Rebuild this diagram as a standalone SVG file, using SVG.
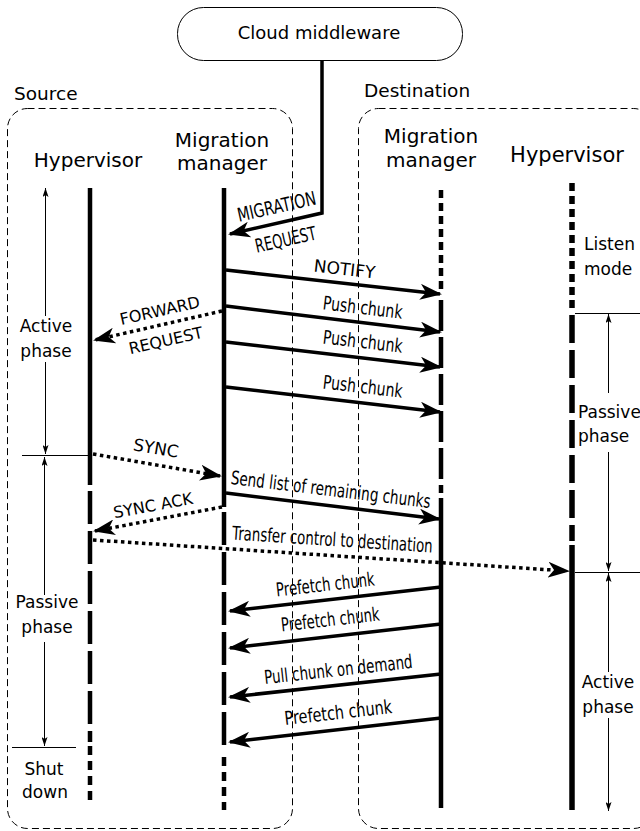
<svg xmlns="http://www.w3.org/2000/svg" width="640" height="831" viewBox="0 0 640 831">
<defs>
<style>
text{font-family:"DejaVu Sans","Liberation Sans",sans-serif;fill:#000}
.box{fill:none;stroke:#000;stroke-width:1;stroke-dasharray:7,4}
.life{stroke:#000;stroke-width:4.5;fill:none}
.msg{stroke:#000;stroke-width:3.5;fill:none;marker-end:url(#ah)}
.dot{stroke:#000;stroke-width:3.5;fill:none;stroke-dasharray:3.5,3.5;marker-end:url(#ah)}
.ph{stroke:#000;stroke-width:1;fill:none}
.pha{stroke:#000;stroke-width:1;fill:none;marker-end:url(#sa)}
.lbl{font-size:19px}
.nm{font-size:17px}
.hd{font-size:20px}
</style>
<marker id="ah" viewBox="0 0 22 16" markerWidth="22" markerHeight="16" refX="20" refY="8" orient="auto" markerUnits="userSpaceOnUse">
<path d="M22,8 L0,0 L6,8 L0,16 Z" fill="#000"/>
</marker>
<marker id="sa" viewBox="0 0 9 6" markerWidth="9" markerHeight="6" refX="9" refY="3" orient="auto" markerUnits="userSpaceOnUse">
<path d="M9,3 L0,0 L2,3 L0,6 Z" fill="#000"/>
</marker>
</defs>

<g id="cloud">
<rect x="177.5" y="7.5" width="285" height="53" rx="26" fill="#fff" stroke="#000" stroke-width="1"/>
<text x="319" y="39" font-size="18" text-anchor="middle">Cloud middleware</text>
</g>

<g id="source">
<rect class="box" x="7.5" y="108.5" width="285" height="720" rx="20"/>
<text x="14" y="100" font-size="18.5">Source</text>
</g>

<g id="destination">
<rect class="box" x="358.5" y="108.5" width="295" height="720" rx="20"/>
<text x="364" y="97" font-size="18.5">Destination</text>
</g>

<g id="src-hypervisor">
<text class="hd" x="88" y="167" text-anchor="middle" font-size="20.5">Hypervisor</text>
<line class="life" x1="90" y1="188" x2="90" y2="485"/>
<line class="life" x1="90" y1="491" x2="90" y2="742" stroke-dasharray="33,7"/>
<line class="life" x1="90" y1="746" x2="90" y2="805" stroke-dasharray="9,6"/>
</g>

<g id="src-manager">
<text class="hd" x="222" y="147" text-anchor="middle">Migration</text>
<text class="hd" x="222" y="170" text-anchor="middle">manager</text>
<line class="life" x1="224" y1="188" x2="224" y2="507"/>
<line class="life" x1="224" y1="512" x2="224" y2="752" stroke-dasharray="33,7"/>
<line class="life" x1="224" y1="757" x2="224" y2="810" stroke-dasharray="9,6"/>
</g>

<g id="dst-manager">
<text class="hd" x="431" y="143" text-anchor="middle">Migration</text>
<text class="hd" x="431" y="167" text-anchor="middle">manager</text>
<line class="life" x1="441" y1="190" x2="441" y2="293" stroke-dasharray="8,5"/>
<line class="life" x1="441" y1="300" x2="441" y2="493" stroke-dasharray="31,6"/>
<line class="life" x1="441" y1="498" x2="441" y2="808"/>
</g>

<g id="dst-hypervisor">
<text x="567" y="162" font-size="21" text-anchor="middle">Hypervisor</text>
<line x1="572" y1="183" x2="572" y2="310" stroke="#000" stroke-width="5.5" stroke-dasharray="8,5"/>
<line x1="572" y1="315" x2="572" y2="541" stroke="#000" stroke-width="5.5" stroke-dasharray="28,7"/>
<line x1="572" y1="545" x2="572" y2="810" stroke="#000" stroke-width="5.5"/>
</g>

<g id="src-phases">
<line class="pha" x1="45.5" y1="316" x2="45.5" y2="188"/>
<text class="nm" x="46" y="332" text-anchor="middle">Active</text>
<text class="nm" x="46" y="357" text-anchor="middle">phase</text>
<line class="pha" x1="45.5" y1="362" x2="45.5" y2="454"/>
<line class="ph" x1="22" y1="455.5" x2="88" y2="455.5"/>
<line class="pha" x1="44.5" y1="595" x2="44.5" y2="457"/>
<text class="nm" x="47" y="608" text-anchor="middle">Passive</text>
<text class="nm" x="47" y="633" text-anchor="middle">phase</text>
<line class="pha" x1="44.5" y1="642" x2="44.5" y2="746"/>
<line class="ph" x1="12" y1="747.5" x2="76" y2="747.5"/>
<text class="nm" x="44" y="775" text-anchor="middle">Shut</text>
<text class="nm" x="45" y="798" text-anchor="middle">down</text>
</g>

<g id="dst-phases">
<text class="nm" x="584" y="250">Listen</text>
<text class="nm" x="584" y="275">mode</text>
<line class="ph" x1="575" y1="313.5" x2="640" y2="313.5"/>
<line class="pha" x1="608.5" y1="393" x2="608.5" y2="314"/>
<text class="nm" x="578" y="418">Passive</text>
<text class="nm" x="578" y="442">phase</text>
<line class="pha" x1="608.5" y1="452" x2="608.5" y2="571"/>
<line class="ph" x1="575" y1="572.5" x2="640" y2="572.5"/>
<line class="pha" x1="608.5" y1="672" x2="608.5" y2="573"/>
<text class="nm" x="608" y="688" text-anchor="middle">Active</text>
<text class="nm" x="608" y="713" text-anchor="middle">phase</text>
<line class="pha" x1="608.5" y1="718" x2="608.5" y2="811"/>
</g>

<g id="connectors">
<polyline class="msg" points="322,60 322,213 230,234"/>
<line class="msg" x1="226" y1="270" x2="440" y2="294"/>
<line class="msg" x1="226" y1="306" x2="440" y2="332"/>
<line class="msg" x1="226" y1="342" x2="440" y2="367"/>
<line class="msg" x1="226" y1="387" x2="440" y2="412"/>
<line class="dot" x1="222" y1="311" x2="95" y2="340"/>
<line class="dot" x1="93" y1="454" x2="220" y2="476"/>
<line class="msg" x1="226" y1="493" x2="439" y2="519"/>
<line class="dot" x1="222" y1="507" x2="95" y2="531"/>
<line class="dot" x1="93" y1="540" x2="568" y2="571"/>
<line class="msg" x1="441" y1="587" x2="230" y2="611"/>
<line class="msg" x1="441" y1="624" x2="230" y2="648"/>
<line class="msg" x1="441" y1="674" x2="230" y2="697"/>
<line class="msg" x1="441" y1="718" x2="230" y2="742"/>
</g>

<g id="labels">
<text class="lbl" x="278" y="213" text-anchor="middle" textLength="80" lengthAdjust="spacingAndGlyphs" transform="rotate(-12.6 278 213)">MIGRATION</text>
<text class="lbl" x="287" y="246" text-anchor="middle" textLength="62" lengthAdjust="spacingAndGlyphs" transform="rotate(-12.6 287 246)">REQUEST</text>
<text x="344" y="275" font-size="17" text-anchor="middle" transform="rotate(6.4 344 275)">NOTIFY</text>
<text class="lbl" x="362" y="314" text-anchor="middle" textLength="80" lengthAdjust="spacingAndGlyphs" transform="rotate(6.8 362 314)">Push chunk</text>
<text class="lbl" x="362" y="348" text-anchor="middle" textLength="80" lengthAdjust="spacingAndGlyphs" transform="rotate(6.6 362 348)">Push chunk</text>
<text class="lbl" x="362" y="393" text-anchor="middle" textLength="80" lengthAdjust="spacingAndGlyphs" transform="rotate(6.6 362 393)">Push chunk</text>
<text x="161" y="316" font-size="16" text-anchor="middle" transform="rotate(-12.7 161 316)">FORWARD</text>
<text x="167" y="346" font-size="16" text-anchor="middle" transform="rotate(-12.7 167 346)">REQUEST</text>
<text x="155" y="454" font-size="17" text-anchor="middle" transform="rotate(9.7 155 454)">SYNC</text>
<text class="lbl" x="330" y="496" text-anchor="middle" textLength="201" lengthAdjust="spacingAndGlyphs" transform="rotate(6.9 330 496)">Send list of remaining chunks</text>
<text x="154" y="511" font-size="16" text-anchor="middle" transform="rotate(-10.5 154 511)">SYNC ACK</text>
<text class="lbl" x="332" y="546" text-anchor="middle" textLength="201" lengthAdjust="spacingAndGlyphs" transform="rotate(3.7 332 546)">Transfer control to destination</text>
<text class="lbl" x="326" y="591" text-anchor="middle" textLength="99" lengthAdjust="spacingAndGlyphs" transform="rotate(-6.4 326 591)">Prefetch chunk</text>
<text class="lbl" x="331" y="626" text-anchor="middle" textLength="99" lengthAdjust="spacingAndGlyphs" transform="rotate(-6.4 331 626)">Prefetch chunk</text>
<text class="lbl" x="339" y="676" text-anchor="middle" textLength="149" lengthAdjust="spacingAndGlyphs" transform="rotate(-6.2 339 676)">Pull chunk on demand</text>
<text class="lbl" x="339" y="719" text-anchor="middle" textLength="108" lengthAdjust="spacingAndGlyphs" transform="rotate(-6.4 339 719)">Prefetch chunk</text>
</g>
</svg>
